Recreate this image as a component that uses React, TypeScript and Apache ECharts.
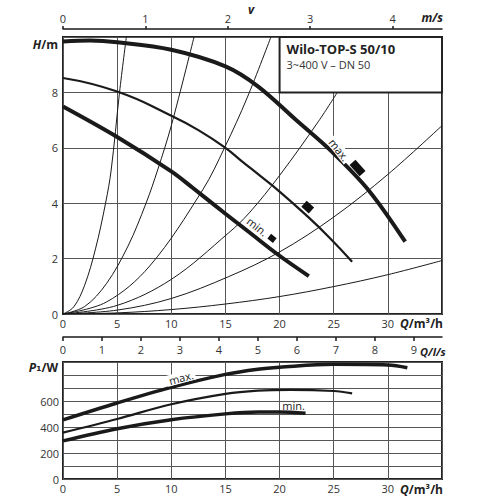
import React, { useEffect, useRef } from "react";
import * as echarts from "echarts";

// ---- tick labels ----
const qTicks = [0, 5, 10, 15, 20, 25, 30];
const hTicks = [0, 2, 4, 6, 8];
const pTicks = [0, 200, 400, 600];
const vTicks = [0, 1, 2, 3, 4];
const lsTicks = [0, 1, 2, 3, 4, 5, 6, 7, 8, 9];

// ---- H(Q) pump curves ----
const hMaxQ = [0, 2.5, 5, 10, 15, 18, 21.5, 24.8, 28.2, 31.6];
const hMaxH = [9.84, 9.87, 9.81, 9.54, 8.94, 8.22, 7.01, 5.87, 4.48, 2.61];
const hMidQ = [0, 5, 10, 12.5, 15, 16.5, 18.1, 20, 22.5, 24.5, 26.7];
const hMidH = [8.52, 8.03, 7.16, 6.64, 6.0, 5.52, 5.02, 4.42, 3.55, 2.8, 1.89];
const hMinQ = [0, 5, 10, 12, 15, 17.2, 19.9, 22.7];
const hMinH = [7.49, 6.39, 5.15, 4.55, 3.62, 2.95, 2.13, 1.37];

// ---- system curves ----
const sys1Q = [0, 1, 2, 3, 3.93, 4.45, 5.22, 5.85];
const sys1H = [0, 0.26, 1.04, 2.35, 4, 5.2, 8, 10];
const sys2Q = [0, 2, 4, 6, 7.67, 8.74, 10, 12.1];
const sys2H = [0, 0.27, 1.09, 2.45, 4, 5.2, 6.8, 10];
const sys3Q = [0, 4, 8, 12.9, 14.94, 17, 19.2];
const sys3H = [0, 0.43, 1.73, 4.48, 6.02, 7.8, 10];
const sys4Q = [0, 5, 10, 15.3, 17.2, 20, 23.6, 25.3];
const sys4H = [0, 0.31, 1.25, 2.93, 3.65, 5.0, 6.96, 7.98];
const sys5Q = [0, 5, 10, 15.3, 20, 25, 30, 35];
const sys5H = [0, 0.14, 0.56, 1.35, 2.24, 3.5, 5.04, 6.8];
const sys6Q = [0, 5, 10, 15, 20, 25, 30, 35];
const sys6H = [0, 0.04, 0.16, 0.36, 0.63, 0.99, 1.42, 1.93];

// ---- P1(Q) curves ----
const pMaxQ = [0, 5, 10, 15, 18, 20, 25, 30, 31.8];
const pMaxP = [455, 585, 705, 805, 845, 860, 882, 877, 856];
const pMidQ = [0, 5, 10, 15, 18, 21, 25, 26.7];
const pMidP = [357, 462, 575, 655, 680, 686, 677, 659];
const pMinQ = [0, 5, 10, 15, 18, 20, 22.4];
const pMinP = [293, 387, 456, 501, 515, 515, 505];

// ---- annotations (data coordinates) ----
const hLabelMax = [25.5, 5.93];
const hLabelMin = [17.95, 3.16];
const hMarkMax = [27.2, 5.27];
const hMarkMid = [22.6, 3.86];
const hMarkMin = [19.3, 2.73];
const pLabelMax = [10.9, 780];
const pLabelMin = [21.3, 568];
const boxCorner1 = [20, 10];
const boxCorner2 = [35, 8];

const Q_MAX = 35;
const H_MAX = 10;
const P_MAX = 900;
const V_MAX = 4.6;
const LS_MAX = Q_MAX / 3.6;

const zip = (a: number[], b: number[]) => a.map((v, i) => [v, b[i]]);

const INK = "#1a1a1a";
const GRID = "#555";
const FONT = "Open Sans";

const App: React.FC = () => {
  const ref = useRef<HTMLDivElement>(null);
  useEffect(() => {
    if (!ref.current) return;
    const chart = echarts.init(ref.current, undefined, { renderer: "svg" });

    const labelStyle = { color: "#333", fontSize: 11, fontFamily: FONT };
    const split = { show: true, lineStyle: { color: GRID, width: 1 } };

    const curve = (
      data: number[][],
      width: number,
      xi: number,
      yi: number,
      smooth = 0.35
    ) => ({
      type: "line",
      xAxisIndex: xi,
      yAxisIndex: yi,
      data,
      smooth,
      showSymbol: false,
      silent: true,
      lineStyle: { color: INK, width, cap: "butt" },
      z: 3,
    });

    const sysCurve = (data: number[][]) => ({
      ...curve(data, 1, 0, 0, 0.35),
      z: 2,
    });

    const textPoint = (
      pos: number[],
      text: string,
      rotate: number,
      xi: number,
      yi: number,
      bg = "#fff"
    ) => ({
      type: "scatter",
      xAxisIndex: xi,
      yAxisIndex: yi,
      data: [pos],
      symbolSize: 1,
      itemStyle: { color: "#fff", opacity: 1 },
      silent: true,
      z: 5,
      label: {
        show: true,
        position: "inside",
        formatter: text,
        rotate,
        fontSize: 11,
        fontFamily: FONT,
        color: "#1a1a1a",
        opacity: 1,
        backgroundColor: bg,
        padding: [0, 2],
      },
    });

    const marker = (pos: number[], size: number[], rot: number) => ({
      type: "scatter",
      xAxisIndex: 0,
      yAxisIndex: 0,
      data: [pos],
      symbol: "rect",
      symbolSize: size,
      symbolRotate: rot,
      itemStyle: { color: "#111", opacity: 1 },
      silent: true,
      z: 5,
    });

    const option: any = {
      animation: false,
      backgroundColor: "#fff",
      textStyle: { fontFamily: FONT },
      grid: [
        {
          left: 63,
          top: 37,
          width: 379,
          height: 277,
          show: true,
          borderColor: "#222",
          borderWidth: 2,
          backgroundColor: "transparent",
        },
        {
          left: 63,
          top: 362,
          width: 379,
          height: 117,
          show: true,
          borderColor: "#222",
          borderWidth: 2,
          backgroundColor: "transparent",
        },
      ],
      xAxis: [
        {
          gridIndex: 0,
          type: "value",
          min: 0,
          max: Q_MAX,
          interval: 5,
          position: "bottom",
          axisLine: { show: false },
          axisTick: { show: false },
          axisLabel: { ...labelStyle, margin: 4, customValues: qTicks },
          splitLine: split,
        },
        {
          gridIndex: 0,
          type: "value",
          min: 0,
          max: V_MAX,
          interval: 1,
          position: "top",
          offset: 8,
          axisLine: { show: true, lineStyle: { color: INK, width: 1.5 } },
          axisTick: { show: true, length: 3, lineStyle: { color: INK, width: 1.5 }, customValues: vTicks },
          axisLabel: { ...labelStyle, margin: 5, customValues: vTicks },
          splitLine: { show: false },
        },
        {
          gridIndex: 1,
          type: "value",
          min: 0,
          max: Q_MAX,
          interval: 5,
          position: "bottom",
          axisLine: { show: false },
          axisTick: { show: false },
          axisLabel: { ...labelStyle, margin: 4, customValues: qTicks },
          splitLine: split,
        },
        {
          gridIndex: 1,
          type: "value",
          min: 0,
          max: LS_MAX,
          interval: 1,
          position: "top",
          offset: 25,
          axisLine: { show: true, lineStyle: { color: INK, width: 1.5 } },
          axisTick: { show: true, inside: true, length: 4, lineStyle: { color: INK, width: 1.5 }, customValues: lsTicks },
          axisLabel: { ...labelStyle, inside: true, margin: 7, customValues: lsTicks },
          splitLine: { show: false },
        },
      ],
      yAxis: [
        {
          gridIndex: 0,
          type: "value",
          min: 0,
          max: H_MAX,
          interval: 2,
          axisLine: { show: false },
          axisTick: { show: false },
          axisLabel: { ...labelStyle, margin: 5, customValues: hTicks },
          splitLine: split,
        },
        {
          gridIndex: 1,
          type: "value",
          min: 0,
          max: P_MAX,
          interval: 100,
          axisLine: { show: false },
          axisTick: { show: false },
          axisLabel: { ...labelStyle, margin: 4, customValues: pTicks },
          splitLine: split,
        },
      ],
      series: [
        sysCurve(zip(sys1Q, sys1H)),
        sysCurve(zip(sys2Q, sys2H)),
        sysCurve(zip(sys3Q, sys3H)),
        sysCurve(zip(sys4Q, sys4H)),
        sysCurve(zip(sys5Q, sys5H)),
        sysCurve(zip(sys6Q, sys6H)),
        curve(zip(hMaxQ, hMaxH), 4, 0, 0),
        curve(zip(hMidQ, hMidH), 2.2, 0, 0, 0.5),
        curve(zip(hMinQ, hMinH), 4, 0, 0),
        curve(zip(pMaxQ, pMaxP), 3.5, 2, 1),
        curve(zip(pMidQ, pMidP), 2.2, 2, 1),
        curve(zip(pMinQ, pMinP), 3.5, 2, 1),
        textPoint(hLabelMax, "max.", -52, 0, 0),
        textPoint(hLabelMin, "min.", -38, 0, 0),
        marker(hMarkMax, [15, 8], -48),
        marker(hMarkMid, [10, 8], -42),
        marker(hMarkMin, [7, 6], -38),
        textPoint(pLabelMax, "max.", 15, 2, 1),
        textPoint(pLabelMin, "min.", 0, 2, 1, "transparent"),
      ],
    };

    chart.setOption(option);

    const p1 = chart.convertToPixel({ gridIndex: 0 }, boxCorner1) as number[];
    const p2 = chart.convertToPixel({ gridIndex: 0 }, boxCorner2) as number[];
    const bx = p1[0];
    const by = p1[1];
    const bw = p2[0] - p1[0];
    const bh = p2[1] - p1[1];

    const richStyles = {
      i: { fontStyle: "italic", fontWeight: "bold", fontSize: 12, fontFamily: FONT, fill: "#222", color: "#222" },
      b: { fontWeight: "bold", fontSize: 12, fontFamily: FONT, fill: "#222", color: "#222" },
      s: { fontWeight: "bold", fontSize: 12, fontFamily: "DejaVu Sans", fill: "#222", color: "#222" },
      k: { fontStyle: "italic", fontWeight: "bold", fontSize: 11, fontFamily: FONT, fill: "#222", color: "#222" },
    };

    const unit = (x: number, y: number, rich: any[], align = "left") => ({
      type: "text",
      x,
      y,
      z: 20,
      style: {
        text: rich.map((r) => `{${r[0]}|${r[1]}}`).join(""),
        textAlign: align,
        textVerticalAlign: "middle",
        align,
        verticalAlign: "middle",
        fill: "#222",
        rich: richStyles,
      },
    });

    chart.setOption({
      graphic: [
        {
          type: "rect",
          z: 15,
          shape: { x: bx, y: by, width: bw, height: bh },
          style: { fill: "#fff", stroke: "#222", lineWidth: 2 },
        },
        {
          type: "text",
          z: 16,
          x: bx + 7,
          y: by + 12,
          style: {
            text: "Wilo-TOP-S 50/10",
            font: `bold 13px "${FONT}"`,
            fill: "#222",
            textVerticalAlign: "middle",
            verticalAlign: "middle",
          },
        },
        {
          type: "text",
          z: 16,
          x: bx + 7,
          y: by + 27,
          style: {
            text: "3~400 V – DN 50",
            font: `11px "${FONT}"`,
            fill: "#333",
            textVerticalAlign: "middle",
            verticalAlign: "middle",
          },
        },
        unit(58, 44, [["i", "H"], ["b", "/m"]], "right"),
        unit(58, 367, [["i", "P"], ["s", "₁"], ["b", "/W"]], "right"),
        unit(443, 323, [["i", "Q"], ["b", "/m³/h"]], "right"),
        unit(443, 489, [["i", "Q"], ["b", "/m³/h"]], "right"),
        unit(420, 351, [["k", "Q/l/s"]], "left"),
        unit(443, 17, [["i", "m/s"]], "right"),
        {
          type: "text",
          z: 16,
          x: 251,
          y: 9,
          style: {
            text: "v",
            font: `italic bold 12px "${FONT}"`,
            fill: "#222",
            textAlign: "center",
            align: "center",
            textVerticalAlign: "middle",
            verticalAlign: "middle",
          },
        },
      ],
    });

    return () => chart.dispose();
  }, []);

  return (
    <div
      ref={ref}
      style={{ position: "fixed", left: 0, top: 0, width: 500, height: 500, background: "#fff" }}
    />
  );
};

export default App;
